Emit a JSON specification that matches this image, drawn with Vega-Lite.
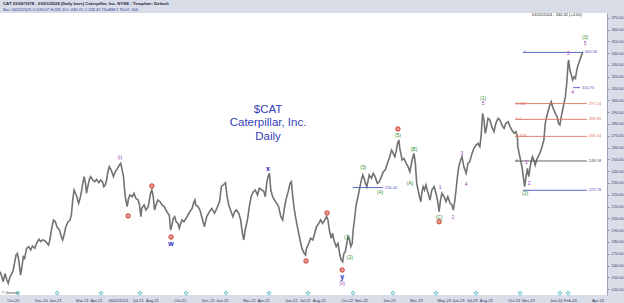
{
  "$schema": "https://vega.github.io/schema/vega-lite/v6.json",
  "width": 607,
  "height": 282,
  "autosize": {"type": "none"},
  "padding": {"left": 0, "top": 13, "right": 17, "bottom": 8},
  "background": "#d9dde7",
  "config": {"view": {"fill": "#ffffff", "stroke": null}, "font": "Liberation Sans"},
  "title": {
    "text": "CAT   03/02/1978 - 03/01/2024 (Daily bars)   Caterpillar, Inc.  NYSE  -  Template: Default",
    "subtitle": "Bar: 06/02/2021   O:243.07   H:245.10   L:240.70   C:243.45   TDxBM:2   TDxY:-104",
    "anchor": "start",
    "frame": "group",
    "fontSize": 4.3,
    "fontWeight": "bold",
    "color": "#1e2240",
    "subtitleFontSize": 4,
    "subtitleColor": "#2c3c9c",
    "subtitlePadding": 2,
    "offset": 1,
    "dx": 3
  },
  "datasets": {
    "price": [
      {"d":0,"p":154.8},{"d":4,"p":150.5},{"d":7,"p":146.3},{"d":11,"p":153.3},{"d":15,"p":147.7},{"d":18,"p":144.9},{"d":22,"p":150.5},{"d":28,"p":154.8},{"d":31,"p":160.4},{"d":35,"p":168.9},{"d":38,"p":170.3},{"d":41,"p":164.6},{"d":45,"p":151.9},{"d":48,"p":159.0},{"d":51,"p":167.5},{"d":54,"p":166.1},{"d":58,"p":174.5},{"d":63,"p":175.9},{"d":67,"p":173.1},{"d":71,"p":176.5},{"d":76,"p":174.5},{"d":80,"p":178.8},{"d":85,"p":182.2},{"d":89,"p":180.2},{"d":93,"p":181.6},{"d":98,"p":181.0},{"d":102,"p":179.3},{"d":106,"p":177.3},{"d":109,"p":181.6},{"d":113,"p":191.5},{"d":117,"p":198.6},{"d":121,"p":197.1},{"d":125,"p":192.3},{"d":130,"p":190.1},{"d":134,"p":184.4},{"d":137,"p":181.6},{"d":140,"p":185.8},{"d":144,"p":192.9},{"d":149,"p":197.1},{"d":153,"p":198.6},{"d":156,"p":202.8},{"d":159,"p":215.5},{"d":162,"p":224.0},{"d":165,"p":221.2},{"d":168,"p":218.3},{"d":172,"p":212.7},{"d":175,"p":216.9},{"d":178,"p":222.6},{"d":181,"p":229.6},{"d":184,"p":235.3},{"d":187,"p":229.6},{"d":189,"p":221.2},{"d":192,"p":226.8},{"d":195,"p":232.5},{"d":198,"p":235.3},{"d":203,"p":232.5},{"d":207,"p":231.0},{"d":211,"p":233.0},{"d":216,"p":230.2},{"d":220,"p":232.5},{"d":224,"p":231.0},{"d":227,"p":226.8},{"d":230,"p":228.2},{"d":233,"p":232.5},{"d":236,"p":239.5},{"d":239,"p":243.8},{"d":243,"p":240.9},{"d":248,"p":235.3},{"d":252,"p":239.5},{"d":257,"p":242.3},{"d":261,"p":245.2},{"d":264,"p":246.6},{"d":267,"p":240.9},{"d":270,"p":235.3},{"d":273,"p":221.2},{"d":275,"p":215.5},{"d":278,"p":209.9},{"d":281,"p":216.9},{"d":284,"p":219.7},{"d":289,"p":218.3},{"d":293,"p":221.2},{"d":297,"p":216.9},{"d":302,"p":215.5},{"d":305,"p":211.3},{"d":308,"p":201.4},{"d":310,"p":208.4},{"d":315,"p":211.3},{"d":319,"p":207.0},{"d":324,"p":209.9},{"d":326,"p":214.1},{"d":329,"p":221.2},{"d":332,"p":224.0},{"d":335,"p":218.3},{"d":338,"p":207.0},{"d":341,"p":211.3},{"d":345,"p":215.5},{"d":350,"p":214.1},{"d":354,"p":211.3},{"d":359,"p":209.9},{"d":363,"p":207.0},{"d":367,"p":204.2},{"d":370,"p":202.8},{"d":373,"p":190.1},{"d":376,"p":194.3},{"d":379,"p":200.0},{"d":382,"p":201.4},{"d":385,"p":197.1},{"d":389,"p":195.7},{"d":392,"p":191.5},{"d":395,"p":195.7},{"d":398,"p":198.6},{"d":402,"p":197.1},{"d":407,"p":200.0},{"d":411,"p":202.8},{"d":415,"p":205.6},{"d":420,"p":208.4},{"d":423,"p":212.7},{"d":426,"p":215.5},{"d":428,"p":211.3},{"d":433,"p":209.9},
      {"d":437,"p":207.0},{"d":443,"p":198.6},{"d":447,"p":192.9},{"d":452,"p":201.4},{"d":458,"p":205.6},{"d":463,"p":208.4},{"d":469,"p":204.2},{"d":474,"p":208.4},{"d":480,"p":214.1},{"d":484,"p":226.8},{"d":488,"p":228.2},{"d":493,"p":230.2},{"d":496,"p":219.7},{"d":500,"p":211.3},{"d":504,"p":207.0},{"d":509,"p":201.4},{"d":513,"p":205.6},{"d":517,"p":207.0},{"d":522,"p":204.2},{"d":526,"p":198.6},{"d":530,"p":187.3},{"d":533,"p":181.6},{"d":536,"p":190.1},{"d":541,"p":198.6},{"d":545,"p":209.9},{"d":549,"p":218.3},{"d":554,"p":222.6},{"d":558,"p":224.0},{"d":563,"p":219.7},{"d":567,"p":225.4},{"d":573,"p":224.0},{"d":577,"p":222.6},{"d":580,"p":218.3},{"d":583,"p":229.6},{"d":586,"p":235.3},{"d":589,"p":238.1},{"d":592,"p":224.0},{"d":596,"p":218.3},{"d":600,"p":215.5},{"d":605,"p":212.7},{"d":609,"p":209.9},{"d":614,"p":201.4},{"d":618,"p":198.6},{"d":621,"p":207.0},{"d":625,"p":215.5},{"d":630,"p":222.6},{"d":634,"p":229.6},{"d":637,"p":231.0},{"d":640,"p":218.3},{"d":643,"p":208.4},{"d":646,"p":201.4},{"d":650,"p":192.9},{"d":653,"p":187.3},{"d":656,"p":181.6},{"d":660,"p":174.5},{"d":665,"p":170.3},{"d":668,"p":168.9},{"d":670,"p":174.5},{"d":675,"p":178.8},{"d":679,"p":183.0},{"d":684,"p":181.6},{"d":688,"p":187.3},{"d":692,"p":192.9},{"d":697,"p":195.7},{"d":701,"p":198.6},{"d":705,"p":195.7},{"d":710,"p":198.6},{"d":714,"p":201.4},{"d":717,"p":198.6},{"d":720,"p":190.1},{"d":724,"p":183.0},{"d":727,"p":187.3},{"d":730,"p":181.6},{"d":735,"p":176.0},{"d":739,"p":178.8},{"d":743,"p":168.9},{"d":746,"p":164.7},{"d":749,"p":163.2},{"d":752,"p":170.3},{"d":755,"p":171.7},{"d":758,"p":178.8},{"d":761,"p":184.4},{"d":764,"p":181.6},{"d":767,"p":176.0},{"d":770,"p":178.8},{"d":772,"p":190.1},{"d":775,"p":198.6},{"d":778,"p":209.9},{"d":781,"p":215.5},{"d":784,"p":221.2},{"d":787,"p":226.8},{"d":790,"p":232.5},{"d":793,"p":236.7},{"d":796,"p":233.9},{"d":799,"p":229.6},{"d":802,"p":226.8},{"d":805,"p":232.5},{"d":807,"p":236.7},{"d":812,"p":233.9},{"d":816,"p":238.1},{"d":820,"p":235.3},{"d":825,"p":229.6},{"d":829,"p":231.0},{"d":834,"p":235.3},{"d":838,"p":239.5},{"d":842,"p":240.9},{"d":847,"p":246.6},{"d":851,"p":250.8},{"d":856,"p":257.9},{"d":858,"p":256.5},{"d":863,"p":252.2},{"d":866,"p":256.5},{"d":869,"p":263.5},{"d":872,"p":266.4},{"d":874,"p":259.3},{"d":877,"p":253.6},
      {"d":879,"p":249.4},{"d":883,"p":250.8},{"d":888,"p":246.6},{"d":892,"p":243.8},{"d":896,"p":239.5},{"d":901,"p":249.4},{"d":905,"p":255.0},{"d":908,"p":246.6},{"d":911,"p":229.6},{"d":914,"p":224.0},{"d":917,"p":218.3},{"d":920,"p":214.1},{"d":922,"p":221.2},{"d":925,"p":226.8},{"d":928,"p":224.0},{"d":931,"p":228.2},{"d":936,"p":221.2},{"d":940,"p":215.5},{"d":944,"p":224.0},{"d":949,"p":226.8},{"d":953,"p":221.2},{"d":957,"p":214.1},{"d":960,"p":205.6},{"d":963,"p":215.5},{"d":966,"p":221.2},{"d":971,"p":218.3},{"d":975,"p":214.1},{"d":979,"p":218.3},{"d":984,"p":212.7},{"d":988,"p":211.3},{"d":991,"p":207.0},{"d":994,"p":214.1},{"d":997,"p":224.0},{"d":1000,"p":235.3},{"d":1003,"p":243.8},{"d":1007,"p":249.4},{"d":1010,"p":252.2},{"d":1014,"p":243.8},{"d":1019,"p":238.1},{"d":1023,"p":246.6},{"d":1027,"p":248.0},{"d":1032,"p":255.0},{"d":1036,"p":259.3},{"d":1041,"p":262.1},{"d":1045,"p":263.5},{"d":1049,"p":260.7},{"d":1052,"p":270.6},{"d":1055,"p":289.0},{"d":1058,"p":283.3},{"d":1061,"p":272.0},{"d":1064,"p":277.7},{"d":1067,"p":284.7},{"d":1071,"p":283.3},{"d":1075,"p":277.7},{"d":1080,"p":273.4},{"d":1084,"p":280.5},{"d":1089,"p":284.7},{"d":1093,"p":283.3},{"d":1097,"p":279.1},{"d":1102,"p":276.2},{"d":1106,"p":280.5},{"d":1111,"p":281.9},{"d":1115,"p":277.7},{"d":1119,"p":274.8},{"d":1124,"p":272.0},{"d":1128,"p":273.4},{"d":1131,"p":269.2},{"d":1132,"p":260.7},{"d":1135,"p":255.0},{"d":1138,"p":249.4},{"d":1141,"p":243.8},{"d":1144,"p":235.3},{"d":1147,"p":226.8},{"d":1150,"p":235.3},{"d":1153,"p":242.3},{"d":1156,"p":235.3},{"d":1159,"p":243.8},{"d":1162,"p":249.4},{"d":1164,"p":252.2},{"d":1167,"p":249.4},{"d":1170,"p":245.2},{"d":1173,"p":249.4},{"d":1178,"p":253.6},{"d":1180,"p":255.0},{"d":1185,"p":260.7},{"d":1189,"p":266.3},{"d":1192,"p":280.5},{"d":1195,"p":286.1},{"d":1199,"p":291.8},{"d":1202,"p":296.0},{"d":1205,"p":298.8},{"d":1208,"p":294.6},{"d":1211,"p":291.8},{"d":1214,"p":288.9},{"d":1218,"p":286.1},{"d":1221,"p":280.5},{"d":1224,"p":279.1},{"d":1227,"p":286.1},{"d":1230,"p":291.8},{"d":1233,"p":297.4},{"d":1236,"p":303.1},{"d":1239,"p":314.4},{"d":1242,"p":331.3},{"d":1243,"p":334.2},{"d":1246,"p":325.7},{"d":1249,"p":321.4},{"d":1252,"p":317.2},{"d":1255,"p":320.0},{"d":1258,"p":318.6},{"d":1261,"p":325.7},{"d":1265,"p":331.3},{"d":1269,"p":335.6},{"d":1274,"p":341.2}
    ],
    "levels": [
      {"d":1143,"d2":1274,"p":340.58,"kind":"target","l":"1","r":"340.58"},
      {"d":1253,"d2":1268,"p":310.75,"kind":"target","l":"","r":"310.75"},
      {"d":1126,"d2":1283,"p":297.24,"kind":"fib","l":"0.382","r":"297.24"},
      {"d":1126,"d2":1283,"p":283.85,"kind":"fib","l":"0.5","r":"283.85"},
      {"d":1126,"d2":1283,"p":269.44,"kind":"fib","l":"0.618","r":"269.44"},
      {"d":1126,"d2":1283,"p":248.58,"kind":"base","l":"0","r":"248.58"},
      {"d":1143,"d2":1283,"p":223.76,"kind":"target","l":"","r":"223.76"},
      {"d":771,"d2":837,"p":226.04,"kind":"target","l":"","r":"226.04"}
    ],
    "waves": [
      {"d":262,"p":252.0,"t":"(i)","deg":"minute"},
      {"d":748,"p":145.2,"t":"(ii)","deg":"minute"},
      {"d":962,"p":226.3,"t":"1","deg":"minuette"},
      {"d":990,"p":201.4,"t":"2","deg":"minuette"},
      {"d":1010,"p":255.1,"t":"3","deg":"minuette"},
      {"d":1019,"p":228.8,"t":"4","deg":"minuette"},
      {"d":1056,"p":297.7,"t":"5","deg":"minuette"},
      {"d":1151,"p":248.0,"t":"1","deg":"minuette"},
      {"d":1157,"p":229.6,"t":"2","deg":"minuette"},
      {"d":1242,"p":339.8,"t":"3","deg":"minuette"},
      {"d":1252,"p":307.3,"t":"4","deg":"minuette"},
      {"d":1279,"p":348.3,"t":"5","deg":"minuette"},
      {"d":759,"p":184.1,"t":"(1)","deg":"minor"},
      {"d":765,"p":167.2,"t":"(2)","deg":"minor"},
      {"d":794,"p":243.5,"t":"(3)","deg":"minor"},
      {"d":831,"p":222.3,"t":"(4)","deg":"minor"},
      {"d":870,"p":270.6,"t":"(5)","deg":"minor"},
      {"d":896,"p":229.7,"t":"(A)","deg":"minor"},
      {"d":905,"p":258.5,"t":"(B)","deg":"minor"},
      {"d":960,"p":201.4,"t":"(C)","deg":"minor"},
      {"d":1056,"p":302.0,"t":"(1)","deg":"minor"},
      {"d":1148,"p":221.2,"t":"(2)","deg":"minor"},
      {"d":1279,"p":353.4,"t":"(3)","deg":"minor"},
      {"d":374,"p":178.2,"t":"w","deg":"primary"},
      {"d":586,"p":241.8,"t":"x","deg":"primary"},
      {"d":748,"p":150.2,"t":"y","deg":"primary"}
    ],
    "circles": [
      {"d":280,"p":202.0,"t":"a"},
      {"d":332,"p":227.4,"t":"b"},
      {"d":374,"p":184.1,"t":"c"},
      {"d":669,"p":163.8,"t":"a"},
      {"d":715,"p":204.5,"t":"b"},
      {"d":748,"p":156.2,"t":"c"},
      {"d":870,"p":275.7,"t":"1"},
      {"d":960,"p":197.1,"t":"2"}
    ],
    "events": [
      {"d":39},{"d":125},{"d":221},{"d":306},{"d":407},{"d":494},{"d":588},{"d":673},{"d":772},{"d":859},{"d":953},{"d":1041},{"d":1137},{"d":1224},{"d":1242}
    ],
    "notes": [
      {"k":"title","txt":"$CAT\nCaterpillar, Inc.\nDaily"},
      {"k":"last","txt":"03/01/2024 - 340.32 (+4.05)"},
      {"k":"credit","txt":"© Genesis"}
    ]
  },
  "layer": [
    {
      "data": {"name": "price"},
      "mark": {"type": "line", "color": "#727272", "strokeWidth": 1.6},
      "encoding": {
        "x": {"field": "d", "type": "quantitative", "scale": {"domain": [0, 1327], "nice": false, "zero": false}, "axis": {"orient": "bottom", "title": null, "grid": false, "domain": false, "ticks": false, "values": [28,89,120,179,210,258,301,332,393,454,485,544,575,636,666,697,758,789,850,909,970,1001,1031,1062,1123,1154,1215,1246,1306], "labelExpr": "datum.value == 258 ? '06/02/2021' : timeFormat(datetime(2020, 8, 3 + datum.value), '%b-%y')", "labelFontSize": 4, "labelColor": "#333366", "labelPadding": 3, "labelOverlap": false, "labelFlush": false}},
        "y": {"field": "p", "type": "quantitative", "scale": {"domain": [135, 374], "nice": false, "zero": false}, "axis": {"orient": "right", "title": null, "grid": false, "values": [140,150,160,170,180,190,200,210,220,230,240,250,260,270,280,290,300,310,320,330,340,350,360,370], "format": ".2f", "labelFontSize": 4, "labelColor": "#3c3c70", "labelPadding": 2, "labelOverlap": false, "tickSize": 2, "tickColor": "#8888a8", "domainColor": "#a0a0b4"}}
      }
    },
    {
      "data": {"name": "events"},
      "mark": {"type": "point", "shape": "diamond", "filled": true, "size": 18, "fill": "#bfe9ee", "stroke": "#4fb0bc", "strokeWidth": 0.7, "opacity": 1},
      "encoding": {
        "x": {"field": "d", "type": "quantitative", "scale": {"domain": [0, 1327], "nice": false, "zero": false}, "axis": {"orient": "bottom", "title": null, "grid": false, "domain": false, "ticks": false, "values": [28,89,120,179,210,258,301,332,393,454,485,544,575,636,666,697,758,789,850,909,970,1001,1031,1062,1123,1154,1215,1246,1306], "labelExpr": "datum.value == 258 ? '06/02/2021' : timeFormat(datetime(2020, 8, 3 + datum.value), '%b-%y')", "labelFontSize": 4, "labelColor": "#333366", "labelPadding": 3, "labelOverlap": false, "labelFlush": false}},
        "y": {"datum": 136.6, "type": "quantitative", "scale": {"domain": [135, 374], "nice": false, "zero": false}, "axis": {"orient": "right", "title": null, "grid": false, "values": [140,150,160,170,180,190,200,210,220,230,240,250,260,270,280,290,300,310,320,330,340,350,360,370], "format": ".2f", "labelFontSize": 4, "labelColor": "#3c3c70", "labelPadding": 2, "labelOverlap": false, "tickSize": 2, "tickColor": "#8888a8", "domainColor": "#a0a0b4"}}
      }
    },
    {
      "data": {"name": "levels"},
      "mark": {"type": "rule", "strokeWidth": 0.9},
      "encoding": {
        "x": {"field": "d", "type": "quantitative", "scale": {"domain": [0, 1327], "nice": false, "zero": false}, "axis": {"orient": "bottom", "title": null, "grid": false, "domain": false, "ticks": false, "values": [28,89,120,179,210,258,301,332,393,454,485,544,575,636,666,697,758,789,850,909,970,1001,1031,1062,1123,1154,1215,1246,1306], "labelExpr": "datum.value == 258 ? '06/02/2021' : timeFormat(datetime(2020, 8, 3 + datum.value), '%b-%y')", "labelFontSize": 4, "labelColor": "#333366", "labelPadding": 3, "labelOverlap": false, "labelFlush": false}},
        "x2": {"field": "d2"},
        "y": {"field": "p", "type": "quantitative", "scale": {"domain": [135, 374], "nice": false, "zero": false}, "axis": {"orient": "right", "title": null, "grid": false, "values": [140,150,160,170,180,190,200,210,220,230,240,250,260,270,280,290,300,310,320,330,340,350,360,370], "format": ".2f", "labelFontSize": 4, "labelColor": "#3c3c70", "labelPadding": 2, "labelOverlap": false, "tickSize": 2, "tickColor": "#8888a8", "domainColor": "#a0a0b4"}},
        "color": {"field": "kind", "type": "nominal", "scale": {"domain": ["fib", "target", "base"], "range": ["#e2725f", "#4a54c4", "#505050"]}, "legend": null}
      }
    },
    {
      "data": {"name": "levels"},
      "transform": [{"filter": "datum.l != ''"}],
      "mark": {"type": "text", "align": "left", "baseline": "middle", "dx": 1, "fontSize": 4},
      "encoding": {
        "x": {"field": "d", "type": "quantitative", "scale": {"domain": [0, 1327], "nice": false, "zero": false}, "axis": {"orient": "bottom", "title": null, "grid": false, "domain": false, "ticks": false, "values": [28,89,120,179,210,258,301,332,393,454,485,544,575,636,666,697,758,789,850,909,970,1001,1031,1062,1123,1154,1215,1246,1306], "labelExpr": "datum.value == 258 ? '06/02/2021' : timeFormat(datetime(2020, 8, 3 + datum.value), '%b-%y')", "labelFontSize": 4, "labelColor": "#333366", "labelPadding": 3, "labelOverlap": false, "labelFlush": false}},
        "y": {"field": "p", "type": "quantitative", "scale": {"domain": [135, 374], "nice": false, "zero": false}, "axis": {"orient": "right", "title": null, "grid": false, "values": [140,150,160,170,180,190,200,210,220,230,240,250,260,270,280,290,300,310,320,330,340,350,360,370], "format": ".2f", "labelFontSize": 4, "labelColor": "#3c3c70", "labelPadding": 2, "labelOverlap": false, "tickSize": 2, "tickColor": "#8888a8", "domainColor": "#a0a0b4"}},
        "text": {"field": "l"},
        "color": {"field": "kind", "type": "nominal", "scale": {"domain": ["fib", "target", "base"], "range": ["#e2725f", "#4a54c4", "#505050"]}, "legend": null}
      }
    },
    {
      "data": {"name": "levels"},
      "mark": {"type": "text", "align": "left", "baseline": "middle", "dx": 2, "fontSize": 4},
      "encoding": {
        "x": {"field": "d2", "type": "quantitative", "scale": {"domain": [0, 1327], "nice": false, "zero": false}, "axis": {"orient": "bottom", "title": null, "grid": false, "domain": false, "ticks": false, "values": [28,89,120,179,210,258,301,332,393,454,485,544,575,636,666,697,758,789,850,909,970,1001,1031,1062,1123,1154,1215,1246,1306], "labelExpr": "datum.value == 258 ? '06/02/2021' : timeFormat(datetime(2020, 8, 3 + datum.value), '%b-%y')", "labelFontSize": 4, "labelColor": "#333366", "labelPadding": 3, "labelOverlap": false, "labelFlush": false}},
        "y": {"field": "p", "type": "quantitative", "scale": {"domain": [135, 374], "nice": false, "zero": false}, "axis": {"orient": "right", "title": null, "grid": false, "values": [140,150,160,170,180,190,200,210,220,230,240,250,260,270,280,290,300,310,320,330,340,350,360,370], "format": ".2f", "labelFontSize": 4, "labelColor": "#3c3c70", "labelPadding": 2, "labelOverlap": false, "tickSize": 2, "tickColor": "#8888a8", "domainColor": "#a0a0b4"}},
        "text": {"field": "r"},
        "color": {"field": "kind", "type": "nominal", "scale": {"domain": ["fib", "target", "base"], "range": ["#e2725f", "#4a54c4", "#505050"]}, "legend": null}
      }
    },
    {
      "data": {"name": "circles"},
      "mark": {"type": "point", "shape": "circle", "filled": true, "size": 20, "fill": "#ee9a8e", "stroke": "#bb2a1c", "strokeWidth": 0.8, "opacity": 1},
      "encoding": {
        "x": {"field": "d", "type": "quantitative", "scale": {"domain": [0, 1327], "nice": false, "zero": false}, "axis": {"orient": "bottom", "title": null, "grid": false, "domain": false, "ticks": false, "values": [28,89,120,179,210,258,301,332,393,454,485,544,575,636,666,697,758,789,850,909,970,1001,1031,1062,1123,1154,1215,1246,1306], "labelExpr": "datum.value == 258 ? '06/02/2021' : timeFormat(datetime(2020, 8, 3 + datum.value), '%b-%y')", "labelFontSize": 4, "labelColor": "#333366", "labelPadding": 3, "labelOverlap": false, "labelFlush": false}},
        "y": {"field": "p", "type": "quantitative", "scale": {"domain": [135, 374], "nice": false, "zero": false}, "axis": {"orient": "right", "title": null, "grid": false, "values": [140,150,160,170,180,190,200,210,220,230,240,250,260,270,280,290,300,310,320,330,340,350,360,370], "format": ".2f", "labelFontSize": 4, "labelColor": "#3c3c70", "labelPadding": 2, "labelOverlap": false, "tickSize": 2, "tickColor": "#8888a8", "domainColor": "#a0a0b4"}}
      }
    },
    {
      "data": {"name": "waves"},
      "transform": [{"filter": "datum.deg == 'minute' || datum.deg == 'minuette'"}],
      "mark": {"type": "text", "align": "center", "baseline": "middle", "fontSize": 5, "color": "#9a3fb0"},
      "encoding": {
        "x": {"field": "d", "type": "quantitative", "scale": {"domain": [0, 1327], "nice": false, "zero": false}, "axis": {"orient": "bottom", "title": null, "grid": false, "domain": false, "ticks": false, "values": [28,89,120,179,210,258,301,332,393,454,485,544,575,636,666,697,758,789,850,909,970,1001,1031,1062,1123,1154,1215,1246,1306], "labelExpr": "datum.value == 258 ? '06/02/2021' : timeFormat(datetime(2020, 8, 3 + datum.value), '%b-%y')", "labelFontSize": 4, "labelColor": "#333366", "labelPadding": 3, "labelOverlap": false, "labelFlush": false}},
        "y": {"field": "p", "type": "quantitative", "scale": {"domain": [135, 374], "nice": false, "zero": false}, "axis": {"orient": "right", "title": null, "grid": false, "values": [140,150,160,170,180,190,200,210,220,230,240,250,260,270,280,290,300,310,320,330,340,350,360,370], "format": ".2f", "labelFontSize": 4, "labelColor": "#3c3c70", "labelPadding": 2, "labelOverlap": false, "tickSize": 2, "tickColor": "#8888a8", "domainColor": "#a0a0b4"}},
        "text": {"field": "t"}
      }
    },
    {
      "data": {"name": "waves"},
      "transform": [{"filter": "datum.deg == 'minor'"}],
      "mark": {"type": "text", "align": "center", "baseline": "middle", "fontSize": 5, "color": "#2f8f2f"},
      "encoding": {
        "x": {"field": "d", "type": "quantitative", "scale": {"domain": [0, 1327], "nice": false, "zero": false}, "axis": {"orient": "bottom", "title": null, "grid": false, "domain": false, "ticks": false, "values": [28,89,120,179,210,258,301,332,393,454,485,544,575,636,666,697,758,789,850,909,970,1001,1031,1062,1123,1154,1215,1246,1306], "labelExpr": "datum.value == 258 ? '06/02/2021' : timeFormat(datetime(2020, 8, 3 + datum.value), '%b-%y')", "labelFontSize": 4, "labelColor": "#333366", "labelPadding": 3, "labelOverlap": false, "labelFlush": false}},
        "y": {"field": "p", "type": "quantitative", "scale": {"domain": [135, 374], "nice": false, "zero": false}, "axis": {"orient": "right", "title": null, "grid": false, "values": [140,150,160,170,180,190,200,210,220,230,240,250,260,270,280,290,300,310,320,330,340,350,360,370], "format": ".2f", "labelFontSize": 4, "labelColor": "#3c3c70", "labelPadding": 2, "labelOverlap": false, "tickSize": 2, "tickColor": "#8888a8", "domainColor": "#a0a0b4"}},
        "text": {"field": "t"}
      }
    },
    {
      "data": {"name": "waves"},
      "transform": [{"filter": "datum.deg == 'primary'"}],
      "mark": {"type": "text", "align": "center", "baseline": "middle", "fontSize": 7, "fontWeight": "bold", "color": "#2424c8"},
      "encoding": {
        "x": {"field": "d", "type": "quantitative", "scale": {"domain": [0, 1327], "nice": false, "zero": false}, "axis": {"orient": "bottom", "title": null, "grid": false, "domain": false, "ticks": false, "values": [28,89,120,179,210,258,301,332,393,454,485,544,575,636,666,697,758,789,850,909,970,1001,1031,1062,1123,1154,1215,1246,1306], "labelExpr": "datum.value == 258 ? '06/02/2021' : timeFormat(datetime(2020, 8, 3 + datum.value), '%b-%y')", "labelFontSize": 4, "labelColor": "#333366", "labelPadding": 3, "labelOverlap": false, "labelFlush": false}},
        "y": {"field": "p", "type": "quantitative", "scale": {"domain": [135, 374], "nice": false, "zero": false}, "axis": {"orient": "right", "title": null, "grid": false, "values": [140,150,160,170,180,190,200,210,220,230,240,250,260,270,280,290,300,310,320,330,340,350,360,370], "format": ".2f", "labelFontSize": 4, "labelColor": "#3c3c70", "labelPadding": 2, "labelOverlap": false, "tickSize": 2, "tickColor": "#8888a8", "domainColor": "#a0a0b4"}},
        "text": {"field": "t"}
      }
    },
    {
      "data": {"name": "notes"},
      "transform": [{"filter": "datum.k == 'title'"}],
      "mark": {"type": "text", "align": "center", "baseline": "middle", "fontSize": 11.5, "lineHeight": 13.5, "lineBreak": "\n", "color": "#3340b8"},
      "encoding": {
        "x": {"datum": 586, "type": "quantitative", "scale": {"domain": [0, 1327], "nice": false, "zero": false}, "axis": {"orient": "bottom", "title": null, "grid": false, "domain": false, "ticks": false, "values": [28,89,120,179,210,258,301,332,393,454,485,544,575,636,666,697,758,789,850,909,970,1001,1031,1062,1123,1154,1215,1246,1306], "labelExpr": "datum.value == 258 ? '06/02/2021' : timeFormat(datetime(2020, 8, 3 + datum.value), '%b-%y')", "labelFontSize": 4, "labelColor": "#333366", "labelPadding": 3, "labelOverlap": false, "labelFlush": false}},
        "y": {"datum": 291.8, "type": "quantitative", "scale": {"domain": [135, 374], "nice": false, "zero": false}, "axis": {"orient": "right", "title": null, "grid": false, "values": [140,150,160,170,180,190,200,210,220,230,240,250,260,270,280,290,300,310,320,330,340,350,360,370], "format": ".2f", "labelFontSize": 4, "labelColor": "#3c3c70", "labelPadding": 2, "labelOverlap": false, "tickSize": 2, "tickColor": "#8888a8", "domainColor": "#a0a0b4"}},
        "text": {"field": "txt"}
      }
    },
    {
      "data": {"name": "notes"},
      "transform": [{"filter": "datum.k == 'last'"}],
      "mark": {"type": "text", "align": "right", "baseline": "middle", "fontSize": 4, "color": "#222222"},
      "encoding": {
        "x": {"datum": 1272, "type": "quantitative", "scale": {"domain": [0, 1327], "nice": false, "zero": false}, "axis": {"orient": "bottom", "title": null, "grid": false, "domain": false, "ticks": false, "values": [28,89,120,179,210,258,301,332,393,454,485,544,575,636,666,697,758,789,850,909,970,1001,1031,1062,1123,1154,1215,1246,1306], "labelExpr": "datum.value == 258 ? '06/02/2021' : timeFormat(datetime(2020, 8, 3 + datum.value), '%b-%y')", "labelFontSize": 4, "labelColor": "#333366", "labelPadding": 3, "labelOverlap": false, "labelFlush": false}},
        "y": {"datum": 372.3, "type": "quantitative", "scale": {"domain": [135, 374], "nice": false, "zero": false}, "axis": {"orient": "right", "title": null, "grid": false, "values": [140,150,160,170,180,190,200,210,220,230,240,250,260,270,280,290,300,310,320,330,340,350,360,370], "format": ".2f", "labelFontSize": 4, "labelColor": "#3c3c70", "labelPadding": 2, "labelOverlap": false, "tickSize": 2, "tickColor": "#8888a8", "domainColor": "#a0a0b4"}},
        "text": {"field": "txt"}
      }
    },
    {
      "data": {"name": "notes"},
      "transform": [{"filter": "datum.k == 'credit'"}],
      "mark": {"type": "text", "align": "left", "baseline": "bottom", "fontSize": 3.5, "color": "#333333"},
      "encoding": {
        "x": {"datum": 4, "type": "quantitative", "scale": {"domain": [0, 1327], "nice": false, "zero": false}, "axis": {"orient": "bottom", "title": null, "grid": false, "domain": false, "ticks": false, "values": [28,89,120,179,210,258,301,332,393,454,485,544,575,636,666,697,758,789,850,909,970,1001,1031,1062,1123,1154,1215,1246,1306], "labelExpr": "datum.value == 258 ? '06/02/2021' : timeFormat(datetime(2020, 8, 3 + datum.value), '%b-%y')", "labelFontSize": 4, "labelColor": "#333366", "labelPadding": 3, "labelOverlap": false, "labelFlush": false}},
        "y": {"datum": 135.2, "type": "quantitative", "scale": {"domain": [135, 374], "nice": false, "zero": false}, "axis": {"orient": "right", "title": null, "grid": false, "values": [140,150,160,170,180,190,200,210,220,230,240,250,260,270,280,290,300,310,320,330,340,350,360,370], "format": ".2f", "labelFontSize": 4, "labelColor": "#3c3c70", "labelPadding": 2, "labelOverlap": false, "tickSize": 2, "tickColor": "#8888a8", "domainColor": "#a0a0b4"}},
        "text": {"field": "txt"}
      }
    }
  ]
}
